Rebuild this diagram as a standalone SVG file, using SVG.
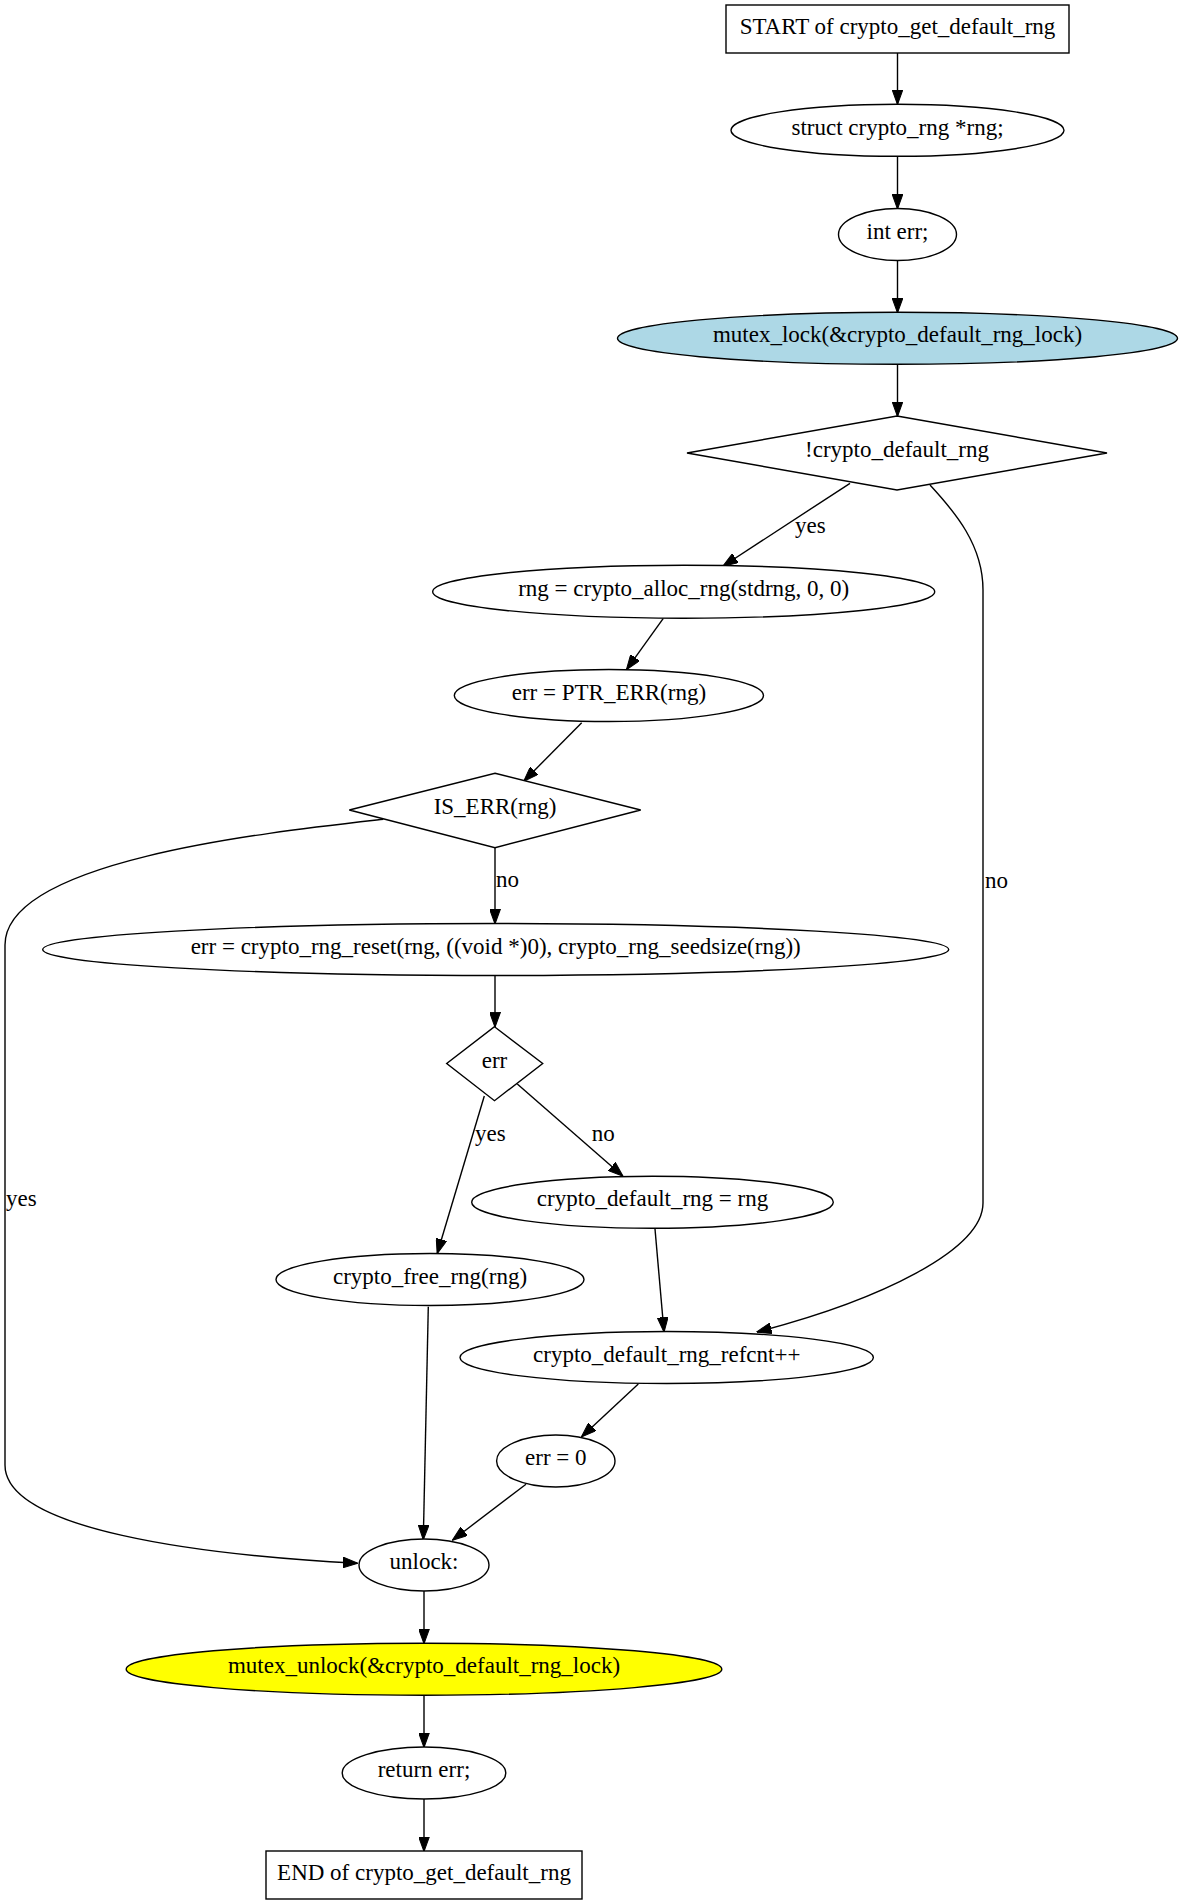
<svg xmlns="http://www.w3.org/2000/svg" width="1180" height="1904" viewBox="0 0 1180 1904">
<style>
.n{fill:#fff;stroke:#000;stroke-width:1.4}
.t{font-family:"Liberation Serif","Times New Roman",serif;font-size:23px;fill:#000;text-anchor:middle}
.l{font-family:"Liberation Serif","Times New Roman",serif;font-size:23px;fill:#000}
.e{fill:none;stroke:#000;stroke-width:1.4;marker-end:url(#ah)}
</style>
<defs>
<marker id="ah" markerUnits="userSpaceOnUse" markerWidth="15" markerHeight="11" viewBox="0 0 14.5 10.5" refX="14" refY="5.25" orient="auto">
<path d="M0,0 L14.5,5.25 L0,10.5 z" fill="#000" stroke="#000" stroke-width="1"/>
</marker>
</defs>
<rect x="0" y="0" width="1180" height="1904" fill="#fff"/>
<g id="edges">
<path class="e" d="M897.5,53 L897.5,104"/>
<path class="e" d="M897.5,156.5 L897.5,208.5"/>
<path class="e" d="M897.5,260.5 L897.5,312.3"/>
<path class="e" d="M897.5,364.3 L897.5,416"/>
<path class="e" d="M850,483.3 L723.3,566"/>
<text class="l" x="795" y="532.7">yes</text>
<path class="e" d="M930,485 C955,512 983,545 983,590 L983,1203 C983,1250 880,1300 757,1332"/>
<text class="l" x="985" y="888">no</text>
<path class="e" d="M663.3,618.3 L626.7,669.3"/>
<path class="e" d="M581.7,722.7 L524,781"/>
<path class="e" d="M495,847.7 L495,923.5"/>
<text class="l" x="496" y="887.3">no</text>
<path class="e" d="M383.3,819.3 C270,832 5,860 5,945 L5,1465 C5,1530 200,1555 357.3,1563.3"/>
<text class="l" x="6" y="1206">yes</text>
<path class="e" d="M495,975.5 L495,1026.7"/>
<path class="e" d="M484.3,1096 L437.3,1253.3"/>
<text class="l" x="475" y="1140.7">yes</text>
<path class="e" d="M517.3,1084 L622.7,1176"/>
<text class="l" x="591.7" y="1140.7">no</text>
<path class="e" d="M655,1229 L664,1331.7"/>
<path class="e" d="M428.3,1306.7 L423.3,1539.3"/>
<path class="e" d="M638.3,1384 L581.7,1436.7"/>
<path class="e" d="M526,1484.3 L452.7,1540"/>
<path class="e" d="M424,1591 L424,1643.2"/>
<path class="e" d="M424,1695.2 L424,1747"/>
<path class="e" d="M424,1799 L424,1851"/>
</g>
<g id="start"><rect class="n" x="726" y="5" width="343" height="48"/><text class="t" x="897.5" y="33.5">START of crypto_get_default_rng</text></g>
<g id="decl_rng"><ellipse class="n" cx="897.5" cy="130.3" rx="166.5" ry="26"/><text class="t" x="897.5" y="134.5">struct crypto_rng *rng;</text></g>
<g id="decl_err"><ellipse class="n" cx="897.5" cy="234.5" rx="59" ry="26"/><text class="t" x="897.5" y="238.5">int err;</text></g>
<g id="mutex_lock"><ellipse class="n" cx="897.5" cy="338.3" rx="280" ry="26" style="fill:#add8e6"/><text class="t" x="897.5" y="342.3">mutex_lock(&amp;crypto_default_rng_lock)</text></g>
<g id="cond_default"><polygon class="n" points="897,416 1107,453 897,490 687,453"/><text class="t" x="897" y="457">!crypto_default_rng</text></g>
<g id="alloc"><ellipse class="n" cx="683.7" cy="591.7" rx="251" ry="26.5"/><text class="t" x="683.7" y="595.7">rng = crypto_alloc_rng(stdrng, 0, 0)</text></g>
<g id="ptr_err"><ellipse class="n" cx="608.9" cy="695.5" rx="154.6" ry="26"/><text class="t" x="608.9" y="699.5">err = PTR_ERR(rng)</text></g>
<g id="is_err"><polygon class="n" points="495,773.3 640.7,810 495,847.7 349.3,810"/><text class="t" x="495" y="814">IS_ERR(rng)</text></g>
<g id="reset"><ellipse class="n" cx="495.7" cy="949.5" rx="453" ry="26"/><text class="t" x="495.7" y="953.5">err = crypto_rng_reset(rng, ((void *)0), crypto_rng_seedsize(rng))</text></g>
<g id="cond_err"><polygon class="n" points="494.5,1026.7 542.7,1063.5 494.5,1100.7 446.7,1063.5"/><text class="t" x="494.5" y="1067.5">err</text></g>
<g id="set_default"><ellipse class="n" cx="652.5" cy="1202.2" rx="180.8" ry="26"/><text class="t" x="652.5" y="1206.2">crypto_default_rng = rng</text></g>
<g id="free"><ellipse class="n" cx="430" cy="1279.5" rx="154" ry="26"/><text class="t" x="430" y="1283.5">crypto_free_rng(rng)</text></g>
<g id="refcnt"><ellipse class="n" cx="666.7" cy="1357.5" rx="206.7" ry="26"/><text class="t" x="666.7" y="1361.5">crypto_default_rng_refcnt++</text></g>
<g id="err_zero"><ellipse class="n" cx="555.8" cy="1461" rx="59.2" ry="26"/><text class="t" x="555.8" y="1465">err = 0</text></g>
<g id="unlock"><ellipse class="n" cx="424" cy="1565" rx="65" ry="26"/><text class="t" x="424" y="1569">unlock:</text></g>
<g id="mutex_unlock"><ellipse class="n" cx="424" cy="1669.2" rx="297.8" ry="26" style="fill:#ffff00"/><text class="t" x="424" y="1673.2">mutex_unlock(&amp;crypto_default_rng_lock)</text></g>
<g id="ret"><ellipse class="n" cx="424" cy="1773" rx="81.8" ry="26"/><text class="t" x="424" y="1777">return err;</text></g>
<g id="end"><rect class="n" x="266" y="1851" width="316" height="48"/><text class="t" x="424" y="1879.5">END of crypto_get_default_rng</text></g>
</svg>
